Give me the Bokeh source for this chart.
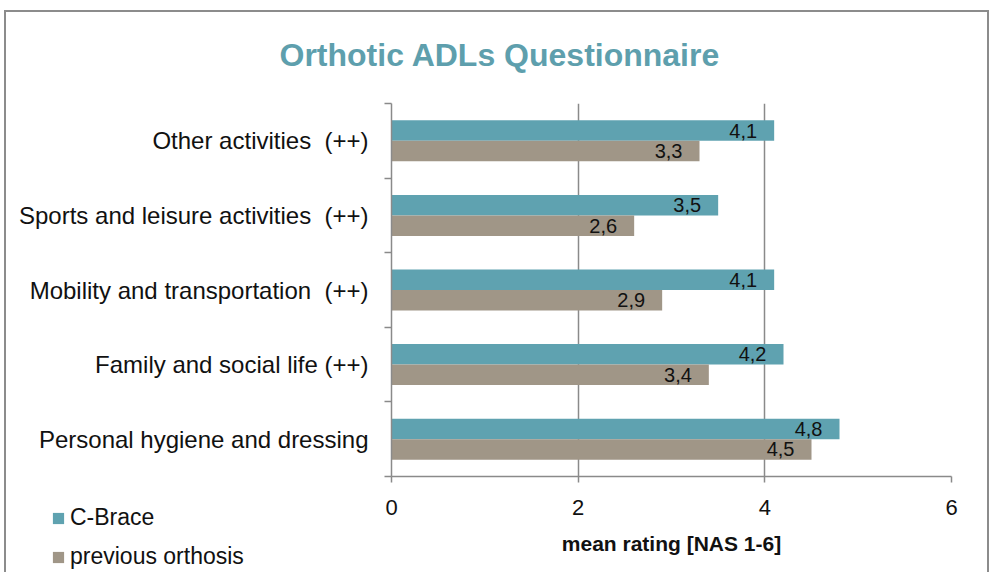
from bokeh.plotting import figure
from bokeh.models import (Range1d, FixedTicker, ColumnDataSource, LabelSet, Title,
                          Legend, LegendItem, Grid)
from bokeh.core.properties import value
from bokeh.embed import file_html
from bokeh.resources import INLINE

# ---- data ----
categories = ["Personal hygiene and dressing",
              "Family and social life (++)",
              "Mobility and transportation\u00a0 (++)",
              "Sports and leisure activities\u00a0 (++)",
              "Other activities\u00a0 (++)"]
c_brace = [4.8, 4.2, 4.1, 3.5, 4.1]
previous = [4.5, 3.4, 2.9, 2.6, 3.3]
series_names = ["C-Brace", "previous orthosis"]
x_ticks = [0, 2, 4, 6]
title_text = "Orthotic ADLs Questionnaire"
x_title = "mean rating [NAS 1-6]"

TEAL = "#5fa2b0"
TAUPE = "#a09687"
GRID = "#8a8a8a"
FONT = "Liberation Sans"
INK = "#111111"

W, H = 992, 572
ML, MR, MT, MB = 391, 41, 103, 96

# ---------------- main chart ----------------
p = figure(width=W, height=H, output_backend="svg", toolbar_location=None,
           x_range=Range1d(0, 6), y_range=Range1d(0, len(categories)),
           min_border_left=ML, min_border_right=MR, min_border_top=MT, min_border_bottom=MB)
p.title = None
p.outline_line_color = None
p.border_fill_color = None
p.background_fill_color = "white"
for gr in p.grid:
    gr.visible = False
g = "linear-gradient(#8c8c8c,#8c8c8c)"
p.styles = {"background": f"{g} 4px 10px / 2px 600px no-repeat, "
                          f"{g} 4px 10px / 985px 2px no-repeat, "
                          f"{g} 987px 10px / 2px 600px no-repeat, white"}

ys = [i + 0.5 for i in range(len(categories))]
bar_h = 0.275
fmt = lambda v: f"{v:.1f}".replace(".", ",")
src = ColumnDataSource(dict(
    cb=c_brace, pr=previous,
    y_cb=[y + bar_h / 2 for y in ys], y_pr=[y - bar_h / 2 for y in ys],
    cb_lbl=[fmt(v) for v in c_brace], pr_lbl=[fmt(v) for v in previous]))

p.add_layout(Grid(dimension=0, ticker=FixedTicker(ticks=x_ticks),
                  grid_line_color=GRID, grid_line_width=1.5))

p.hbar(y="y_cb", left=0, right="cb", height=bar_h, fill_color=TEAL, line_color=None, source=src)
p.hbar(y="y_pr", left=0, right="pr", height=bar_h, fill_color=TAUPE, line_color=None, source=src)

for xcol, ycol, tcol in [("cb", "y_cb", "cb_lbl"), ("pr", "y_pr", "pr_lbl")]:
    p.add_layout(LabelSet(x=xcol, y=ycol, text=tcol, source=src, x_offset=-17,
                          text_align="right", text_baseline="middle",
                          text_font=value(FONT), text_font_size="20px", text_color=INK))

ya = p.yaxis[0]
ya.ticker = FixedTicker(ticks=ys, minor_ticks=list(range(len(categories) + 1)))
ya.major_label_overrides = {y: c for y, c in zip(ys, categories)}
ya.axis_line_color = GRID
ya.axis_line_width = 1.5
ya.major_tick_line_color = None
ya.major_tick_out = 0
ya.major_tick_in = 0
ya.minor_tick_line_color = GRID
ya.minor_tick_line_width = 1.5
ya.minor_tick_out = 7
ya.minor_tick_in = 0
ya.major_label_standoff = 16
ya.major_label_text_font = FONT
ya.major_label_text_font_size = "24px"
ya.major_label_text_color = INK

xa = p.xaxis[0]
xa.ticker = FixedTicker(ticks=x_ticks)
xa.axis_line_color = GRID
xa.axis_line_width = 1.5
xa.major_tick_line_color = GRID
xa.major_tick_line_width = 1.5
xa.major_tick_out = 6
xa.major_tick_in = 0
xa.minor_tick_line_color = None
xa.major_label_standoff = 17
xa.major_label_text_font = FONT
xa.major_label_text_font_size = "22px"
xa.major_label_text_color = INK
xa.axis_label = x_title
xa.axis_label_standoff = 14
xa.axis_label_text_font = FONT
xa.axis_label_text_font_size = "21px"
xa.axis_label_text_font_style = "bold"
xa.axis_label_text_color = INK

p.add_layout(Title(text=title_text, align="left", offset=-112, standoff=62,
                   text_font=FONT, text_font_size="32px", text_font_style="bold",
                   text_color="#5e9fad"), "above")

# ---------------- legend (separate small root laid over the bottom-left corner) ----------------
LG_W, LG_H, LG_TOP = ML, H - 475, 475
pl = figure(width=LG_W, height=LG_H, output_backend="svg", toolbar_location=None,
            x_range=Range1d(-2, -1), y_range=Range1d(0, 1),
            x_axis_location=None, y_axis_location=None,
            min_border_left=0, min_border_right=0, min_border_top=0, min_border_bottom=0)
pl.title = None
pl.outline_line_color = None
pl.border_fill_color = None
pl.background_fill_color = None
for gr in pl.grid:
    gr.visible = False
pl.styles = {"position": "absolute", "left": "0px", "top": f"{LG_TOP}px", "z-index": "5"}
# same bars (outside this small canvas's visible range) just to supply legend swatches
lr1 = pl.hbar(y="y_cb", left=0, right="cb", height=bar_h, fill_color=TEAL, line_color=None, source=src)
lr2 = pl.hbar(y="y_pr", left=0, right="pr", height=bar_h, fill_color=TAUPE, line_color=None, source=src)
legend = Legend(items=[LegendItem(label=series_names[0], renderers=[lr1]),
                       LegendItem(label=series_names[1], renderers=[lr2])],
                location=(51, 2), orientation="vertical",
                glyph_width=14, glyph_height=14, label_height=25, spacing=12,
                label_standoff=5, padding=0, margin=0,
                border_line_color=None, background_fill_alpha=0,
                label_text_font=FONT, label_text_font_size="23px", label_text_color=INK)
pl.add_layout(legend, "center")

open("out.html", "w").write(file_html([p, pl], INLINE))
